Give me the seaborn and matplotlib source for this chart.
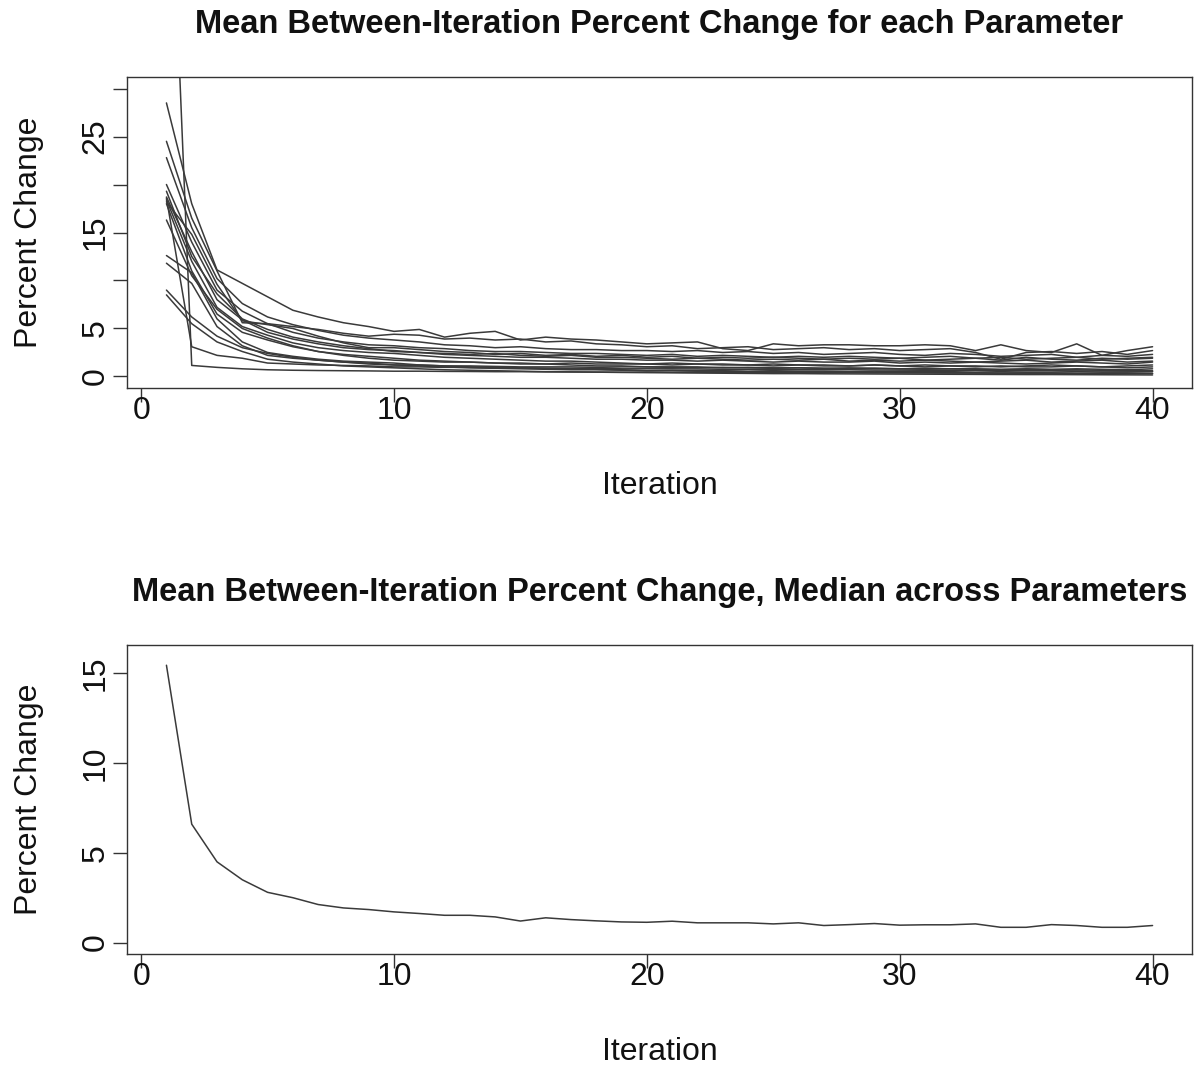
import matplotlib
matplotlib.use("Agg")
import matplotlib.pyplot as plt
import seaborn as sns
import pandas as pd

# iterations 1..40
iteration = list(range(1, 41))

# mean between-iteration percent change, one list per parameter
p01 = [65.0, 1.15, 0.95, 0.8, 0.7, 0.65, 0.62, 0.6, 0.58, 0.55, 0.55, 0.53, 0.52, 0.5, 0.5, 0.48, 0.47, 0.46, 0.45, 0.45,
       0.44, 0.43, 0.42, 0.42, 0.41, 0.4, 0.4, 0.39, 0.38, 0.38, 0.37, 0.36, 0.36, 0.35, 0.35, 0.34, 0.33, 0.33, 0.32, 0.32]
p02 = [18.6, 3.1, 2.2, 1.9, 1.4, 1.3, 1.2, 1.15, 1.1, 1.0, 1.0, 0.95, 0.95, 0.9, 0.9, 0.85, 0.85, 0.85, 0.8, 0.8,
       0.8, 0.78, 0.75, 0.75, 0.72, 0.7, 0.7, 0.7, 0.68, 0.66, 0.65, 0.65, 0.63, 0.62, 0.6, 0.6, 0.58, 0.57, 0.56, 0.55]
p03 = [28.5, 18.0, 11.1, 9.7, 8.3, 6.9, 6.2, 5.6, 5.2, 4.7, 4.9, 4.1, 4.5, 4.7, 3.8, 4.1, 3.9, 3.8, 3.6, 3.4,
       3.5, 3.6, 2.9, 2.7, 3.4, 3.2, 3.3, 3.3, 3.2, 3.2, 3.3, 3.2, 2.7, 3.3, 2.7, 2.5, 3.4, 2.2, 2.7, 3.1]
p04 = [24.5, 16.5, 11.0, 5.6, 5.5, 5.2, 4.9, 4.5, 4.2, 4.4, 4.3, 3.9, 4.0, 3.8, 3.9, 3.6, 3.7, 3.4, 3.3, 3.1,
       3.2, 2.9, 3.0, 3.1, 2.8, 2.9, 3.0, 2.8, 2.9, 2.7, 2.8, 2.9, 2.5, 1.8, 2.5, 2.6, 2.4, 2.6, 2.3, 2.7]
p05 = [22.8, 15.5, 10.2, 7.6, 6.2, 5.4, 4.8, 4.3, 4.0, 3.8, 3.6, 3.3, 3.2, 3.0, 3.1, 2.9, 2.8, 2.8, 2.7, 2.7,
       2.6, 2.7, 2.5, 2.6, 2.4, 2.5, 2.3, 2.4, 2.5, 2.3, 2.2, 2.4, 2.3, 2.1, 2.2, 2.3, 2.0, 2.2, 2.1, 2.3]
p06 = [20.0, 14.0, 9.0, 6.8, 5.5, 4.6, 4.0, 3.6, 3.3, 3.2, 3.0, 2.9, 2.7, 2.6, 2.6, 2.5, 2.4, 2.4, 2.3, 2.2,
       2.3, 2.1, 2.2, 2.1, 2.0, 2.1, 2.0, 2.1, 2.0, 1.9, 2.0, 2.1, 1.9, 2.0, 1.8, 1.9, 2.0, 1.8, 1.9, 2.0]
p07 = [18.7, 13.0, 8.0, 5.9, 4.6, 3.9, 3.4, 3.0, 2.8, 2.7, 2.5, 2.3, 2.2, 2.1, 2.0, 2.0, 1.9, 1.8, 1.8, 1.7,
       1.7, 1.6, 1.7, 1.6, 1.5, 1.6, 1.5, 1.5, 1.6, 1.4, 1.5, 1.4, 1.5, 1.4, 1.3, 1.4, 1.5, 1.4, 1.3, 1.5]
p08 = [18.4, 12.0, 7.2, 5.2, 4.3, 3.5, 3.0, 2.7, 2.5, 2.4, 2.2, 2.0, 1.9, 1.8, 1.7, 1.6, 1.6, 1.5, 1.4, 1.3,
       1.4, 1.3, 1.3, 1.2, 1.3, 1.2, 1.2, 1.1, 1.2, 1.1, 1.2, 1.1, 1.1, 1.0, 1.1, 1.2, 1.1, 1.0, 1.1, 1.2]
p09 = [18.0, 11.0, 6.5, 4.6, 3.8, 3.1, 2.6, 2.3, 2.1, 1.9, 1.7, 1.6, 1.5, 1.4, 1.3, 1.3, 1.2, 1.1, 1.1, 1.0,
       1.0, 1.0, 0.9, 0.95, 0.9, 0.9, 0.85, 0.9, 0.85, 0.8, 0.85, 0.8, 0.8, 0.75, 0.8, 0.75, 0.8, 0.75, 0.7, 0.8]
p10 = [16.3, 10.5, 7.0, 5.0, 4.0, 3.2, 2.6, 2.2, 1.9, 1.7, 1.6, 1.5, 1.5, 1.4, 1.4, 1.3, 1.4, 1.3, 1.3, 1.3,
       1.2, 1.3, 1.2, 1.2, 1.1, 1.2, 1.1, 1.1, 1.2, 1.1, 1.0, 1.1, 1.0, 1.1, 1.0, 1.0, 1.1, 1.0, 0.9, 1.0]
p11 = [12.6, 10.8, 6.0, 3.6, 2.5, 2.1, 1.8, 1.6, 1.5, 1.4, 1.2, 1.1, 1.0, 0.95, 0.9, 0.85, 0.8, 0.75, 0.7, 0.6,
       0.65, 0.6, 0.6, 0.55, 0.6, 0.55, 0.55, 0.5, 0.55, 0.5, 0.5, 0.5, 0.45, 0.5, 0.45, 0.45, 0.5, 0.45, 0.45, 0.5]
p12 = [11.8, 9.7, 5.2, 3.2, 2.2, 1.9, 1.7, 1.5, 1.4, 1.2, 1.2, 1.1, 1.1, 1.05, 1.0, 1.0, 1.0, 0.95, 1.0, 1.0,
       0.95, 0.9, 0.95, 0.9, 0.85, 0.9, 0.85, 0.8, 0.85, 0.8, 0.75, 0.8, 0.75, 0.7, 0.75, 0.7, 0.7, 0.65, 0.6, 0.6]
p13 = [9.0, 6.2, 4.2, 3.0, 2.4, 2.0, 1.7, 1.5, 1.3, 1.2, 1.1, 1.0, 0.9, 0.85, 0.8, 0.75, 0.7, 0.7, 0.65, 0.6,
       0.6, 0.55, 0.55, 0.5, 0.5, 0.48, 0.45, 0.45, 0.42, 0.4, 0.4, 0.38, 0.36, 0.35, 0.35, 0.33, 0.32, 0.3, 0.3, 0.3]
p14 = [8.5, 5.5, 3.6, 2.6, 1.8, 1.5, 1.3, 1.1, 1.0, 0.9, 0.8, 0.7, 0.65, 0.6, 0.55, 0.5, 0.48, 0.45, 0.42, 0.4,
       0.38, 0.36, 0.34, 0.32, 0.3, 0.3, 0.28, 0.27, 0.26, 0.25, 0.24, 0.23, 0.22, 0.21, 0.2, 0.2, 0.19, 0.18, 0.17, 0.16]
p15 = [19.3, 12.5, 8.6, 6.0, 4.9, 4.1, 3.6, 3.2, 2.9, 2.6, 2.5, 2.4, 2.3, 2.4, 2.2, 2.1, 2.2, 2.0, 2.0, 1.9,
       1.8, 1.9, 1.8, 1.7, 1.8, 1.7, 1.8, 1.6, 1.7, 1.6, 1.7, 1.6, 1.5, 1.6, 1.7, 1.5, 1.6, 1.7, 1.5, 1.6]
p16 = [18.2, 14.8, 9.6, 5.8, 5.4, 5.0, 4.2, 3.5, 3.0, 3.0, 2.8, 2.6, 2.5, 2.3, 2.4, 2.2, 2.3, 2.1, 2.2, 2.0,
       2.1, 1.9, 2.0, 1.9, 2.0, 1.9, 1.8, 1.9, 1.8, 1.9, 1.7, 1.8, 1.9, 1.7, 2.0, 1.8, 1.7, 1.9, 1.8, 1.9]

# median across parameters
median_change = [15.46, 6.6, 4.5, 3.5, 2.8, 2.5, 2.12, 1.93, 1.84, 1.71, 1.62, 1.52, 1.52, 1.43, 1.2, 1.38, 1.28, 1.21, 1.15, 1.13,
                 1.19, 1.10, 1.10, 1.10, 1.04, 1.10, 0.95, 1.0, 1.06, 0.97, 0.99, 0.99, 1.04, 0.85, 0.85, 1.0, 0.95, 0.85, 0.85, 0.95]

top_yrange = (0, 30)
bottom_yrange = (0, 15.95)
top_yticks = [0, 5, 10, 15, 20, 25, 30]
top_ylabels = ["0", "5", "", "15", "", "25", ""]
bottom_yticks = [0, 5, 10, 15]
xticks = [0, 10, 20, 30, 40]

params = [p01, p02, p03, p04, p05, p06, p07, p08, p09, p10, p11, p12, p13, p14, p15, p16]
rows = []
for k, vals in enumerate(params):
    for it, v in zip(iteration, vals):
        rows.append({"param": k, "iteration": it, "pct": v})
df_params = pd.DataFrame(rows)
df_median = pd.DataFrame({"iteration": iteration, "pct": median_change})

sns.set_style("white")
plt.rcParams["font.family"] = ["Liberation Sans", "DejaVu Sans"]
plt.rcParams["text.color"] = "#111111"
plt.rcParams["axes.labelcolor"] = "#111111"
plt.rcParams["xtick.labelcolor"] = "#111111"
plt.rcParams["ytick.labelcolor"] = "#111111"

LINE = "#3a3a3a"
FS = 23
fig = plt.figure(figsize=(11.94, 10.68), dpi=100)
ax1 = fig.add_axes([127 / 1194, 1 - 388 / 1068, (1192 - 127) / 1194, (388 - 77) / 1068])
ax2 = fig.add_axes([127 / 1194, 1 - 954 / 1068, (1192 - 127) / 1194, (954 - 645) / 1068])

sns.lineplot(data=df_params, x="iteration", y="pct", units="param", estimator=None,
             color=LINE, linewidth=1.1, ax=ax1)
sns.lineplot(data=df_median, x="iteration", y="pct", color=LINE, linewidth=1.1, ax=ax2)


def r_style(ax, yrange, yticks, ylabels, title):
    # R-like 4% padding of the axis ranges
    span = 40 - 1
    ax.set_xlim(1 - 0.04 * span, 40 + 0.04 * span)
    yspan = yrange[1] - yrange[0]
    ax.set_ylim(yrange[0] - 0.04 * yspan, yrange[1] + 0.04 * yspan)
    ax.set_xticks(xticks)
    ax.set_xticklabels([str(t) for t in xticks])
    ax.set_yticks(yticks)
    ax.set_yticklabels(ylabels, rotation=90, va="center")
    ax.tick_params(direction="out", length=10, width=1, color="#333333",
                   labelsize=FS, left=True, bottom=True)
    ax.tick_params(axis="x", pad=-4)
    ax.tick_params(axis="y", pad=2)
    for s in ax.spines.values():
        s.set_visible(True)
        s.set_color("#333333")
        s.set_linewidth(1.0)
    ax.set_xlabel("Iteration", fontsize=FS, labelpad=32)
    ax.set_ylabel("Percent Change", fontsize=FS, labelpad=26)
    ax.set_title(title, fontsize=23.5, fontweight="bold", pad=32)


r_style(ax1, top_yrange, top_yticks, top_ylabels,
        "Mean Between-Iteration Percent Change for each Parameter")
r_style(ax2, bottom_yrange, bottom_yticks, [str(t) for t in bottom_yticks],
        "Mean Between-Iteration Percent Change, Median across Parameters")

fig.savefig("out.png", dpi=100)
